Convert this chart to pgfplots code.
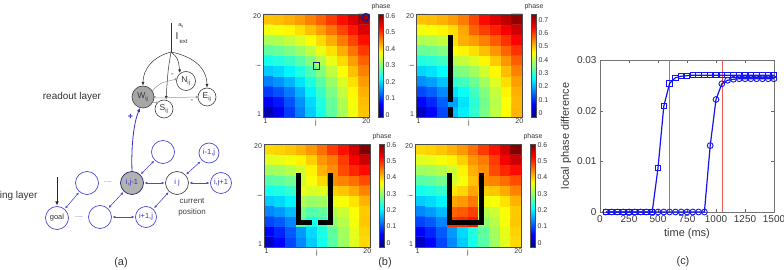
\documentclass[border=0pt]{standalone}
\usepackage{pgfplots}
\pgfplotsset{compat=1.18}
\usepackage{fontspec}
\setmainfont{Liberation Sans}
\usepackage{graphicx}
\usetikzlibrary{arrows.meta}
\definecolor{pblue}{RGB}{75,75,215}
\definecolor{tblue}{RGB}{50,50,205}
\definecolor{mblue}{RGB}{20,20,240}
\definecolor{navy}{RGB}{25,25,140}
\definecolor{txt}{RGB}{55,55,55}
\definecolor{vred}{RGB}{240,90,90}
\newcommand{\fs}[1]{\fontsize{#1}{#1}\selectfont}
\pgfplotsset{
 /pgf/number format/assume math mode=true,
 /pgf/number format/1000 sep={},
 hm/.style={
  scale only axis, width=106bp, height=103bp,
  xmin=0.5, xmax=20.5, ymin=0.5, ymax=20.5,
  xtick={1,10.5,20}, xticklabels={1,j,20},
  ytick={1,10.5,20}, yticklabels={1,\rotatebox{90}{i},20},
  tick label style={font=\fs{7}, text=txt},
  xticklabel style={yshift=1.5bp},
  yticklabel style={xshift=1.5bp},
  major tick length=0pt,
  axis line style={black!70, line width=0.4bp},
  axis on top,
  colormap/jet,
  colorbar,
  colorbar style={
    width=5bp, at={(parent axis.north east)}, anchor=north west, xshift=1bp,
    yticklabel style={font=\fs{7}, text=txt, xshift=-1.5bp},
    major tick length=0pt,
    axis line style={black!70, line width=0.4bp},
    title={phase}, title style={font=\fs{7}, text=txt, yshift=-5bp},
  },
 },
}
\newcommand{\hmdata}[1]{\addplot[matrix plot*, mesh/cols=10, point meta=explicit] table[row sep=\\, header=false, x expr={2*mod(\coordindex,10)+1.5}, y expr={2*floor(\coordindex/10)+1.5}, meta index=0] {#1};}
\begin{document}
\begin{tikzpicture}
\useasboundingbox (0,0) rectangle (784bp,270bp);

% ---------------- (b) heatmaps ----------------
\begin{axis}[hm, at={(263bp,153bp)}, anchor=south west,
  point meta min=-0.012, point meta max=0.61,
  colorbar style={ytick={0,0.1,0.2,0.3,0.4,0.5,0.6}}]
\hmdata{
0.016\\0.057\\0.101\\0.145\\0.190\\0.234\\0.279\\0.324\\0.368\\0.413\\
0.057\\0.079\\0.115\\0.155\\0.198\\0.241\\0.284\\0.328\\0.372\\0.416\\
0.101\\0.115\\0.142\\0.176\\0.215\\0.255\\0.296\\0.339\\0.381\\0.425\\
0.145\\0.155\\0.176\\0.205\\0.239\\0.275\\0.314\\0.354\\0.395\\0.437\\
0.190\\0.198\\0.215\\0.239\\0.268\\0.301\\0.337\\0.375\\0.414\\0.454\\
0.234\\0.241\\0.255\\0.275\\0.301\\0.331\\0.364\\0.399\\0.436\\0.474\\
0.279\\0.284\\0.296\\0.314\\0.337\\0.364\\0.394\\0.427\\0.462\\0.498\\
0.324\\0.328\\0.339\\0.354\\0.375\\0.399\\0.427\\0.457\\0.490\\0.524\\
0.368\\0.372\\0.381\\0.395\\0.414\\0.436\\0.462\\0.490\\0.520\\0.553\\
0.413\\0.416\\0.425\\0.437\\0.454\\0.474\\0.498\\0.524\\0.553\\0.583\\
}
\addplot[only marks, mark=square, mark size=3.2bp, draw=navy, line width=1.3bp] coordinates {(10.6,10.4)};
\addplot[only marks, mark=o, mark size=3.5bp, draw=navy, line width=1.3bp] coordinates {(19.9,19.9)};
\end{axis}

\begin{axis}[hm, at={(416bp,153bp)}, anchor=south west,
  point meta min=-0.03, point meta max=0.745,
  colorbar style={ytick={0,0.1,0.2,0.3,0.4,0.5,0.6,0.7}}]
\hmdata{
0.019\\0.069\\0.122\\0.213\\0.249\\0.299\\0.351\\0.404\\0.457\\0.511\\
0.069\\0.096\\0.139\\0.190\\0.239\\0.293\\0.347\\0.400\\0.454\\0.508\\
0.122\\0.139\\0.172\\0.239\\0.266\\0.310\\0.359\\0.410\\0.462\\0.515\\
0.176\\0.188\\0.214\\0.293\\0.310\\0.342\\0.384\\0.430\\0.479\\0.529\\
0.230\\0.239\\0.260\\0.347\\0.359\\0.384\\0.419\\0.460\\0.504\\0.551\\
0.284\\0.291\\0.308\\0.400\\0.410\\0.430\\0.460\\0.495\\0.535\\0.579\\
0.338\\0.344\\0.359\\0.454\\0.462\\0.479\\0.504\\0.535\\0.572\\0.611\\
0.392\\0.397\\0.410\\0.479\\0.515\\0.529\\0.551\\0.579\\0.611\\0.648\\
0.446\\0.451\\0.462\\0.479\\0.521\\0.573\\0.600\\0.625\\0.654\\0.687\\
0.500\\0.504\\0.514\\0.529\\0.554\\0.595\\0.642\\0.672\\0.699\\0.730\\
}
\addplot[fill=black, draw=none] coordinates {(6.5,3.5) (7.5,3.5) (7.5,16.5) (6.5,16.5)} -- cycle;
\addplot[fill=black, draw=none] coordinates {(6.5,0.5) (7.5,0.5) (7.5,2.4) (6.5,2.4)} -- cycle;
\end{axis}

\begin{axis}[hm, at={(264bp,23bp)}, anchor=south west,
  point meta min=-0.026, point meta max=0.606,
  colorbar style={ytick={0,0.1,0.2,0.3,0.4,0.5,0.6}}]
\hmdata{
0.015\\0.054\\0.096\\0.138\\0.180\\0.223\\0.265\\0.308\\0.350\\0.392\\
0.054\\0.075\\0.109\\0.148\\0.188\\0.229\\0.270\\0.312\\0.354\\0.396\\
0.096\\0.109\\0.135\\0.263\\0.224\\0.242\\0.299\\0.323\\0.363\\0.404\\
0.138\\0.148\\0.168\\0.284\\0.263\\0.271\\0.324\\0.337\\0.366\\0.402\\
0.180\\0.188\\0.204\\0.318\\0.305\\0.309\\0.357\\0.364\\0.386\\0.416\\
0.223\\0.229\\0.242\\0.356\\0.347\\0.350\\0.399\\0.405\\0.421\\0.446\\
0.265\\0.270\\0.282\\0.339\\0.365\\0.392\\0.441\\0.446\\0.459\\0.480\\
0.308\\0.312\\0.322\\0.339\\0.376\\0.417\\0.439\\0.481\\0.503\\0.521\\
0.350\\0.354\\0.363\\0.376\\0.399\\0.433\\0.451\\0.490\\0.531\\0.559\\
0.392\\0.396\\0.404\\0.416\\0.433\\0.459\\0.491\\0.517\\0.555\\0.604\\
}
\addplot[fill=black, draw=none] coordinates {(6.5,4.8) (7.5,4.8) (7.5,14.9) (6.5,14.9)} -- cycle;
\addplot[fill=black, draw=none] coordinates {(6.5,4.8) (9.5,4.8) (9.5,5.8) (6.5,5.8)} -- cycle;
\addplot[fill=black, draw=none] coordinates {(12.5,4.8) (13.5,4.8) (13.5,14.9) (12.5,14.9)} -- cycle;
\addplot[fill=black, draw=none] coordinates {(10.6,4.8) (13.5,4.8) (13.5,5.8) (10.6,5.8)} -- cycle;
\end{axis}

\begin{axis}[hm, at={(415bp,23bp)}, anchor=south west,
  point meta min=-0.026, point meta max=0.606,
  colorbar style={ytick={0,0.1,0.2,0.3,0.4,0.5,0.6}}]
\hmdata{
0.015\\0.054\\0.096\\0.138\\0.180\\0.223\\0.265\\0.308\\0.350\\0.392\\
0.054\\0.075\\0.109\\0.148\\0.188\\0.229\\0.270\\0.312\\0.354\\0.396\\
0.096\\0.109\\0.135\\0.498\\0.503\\0.517\\0.299\\0.323\\0.363\\0.404\\
0.138\\0.148\\0.168\\0.466\\0.472\\0.488\\0.324\\0.337\\0.366\\0.402\\
0.180\\0.188\\0.204\\0.424\\0.432\\0.453\\0.357\\0.364\\0.386\\0.416\\
0.223\\0.229\\0.242\\0.382\\0.394\\0.424\\0.399\\0.405\\0.421\\0.446\\
0.265\\0.270\\0.282\\0.341\\0.365\\0.405\\0.441\\0.446\\0.459\\0.480\\
0.308\\0.312\\0.322\\0.339\\0.376\\0.417\\0.439\\0.481\\0.503\\0.521\\
0.350\\0.354\\0.363\\0.376\\0.399\\0.433\\0.451\\0.490\\0.531\\0.559\\
0.392\\0.396\\0.404\\0.416\\0.433\\0.459\\0.491\\0.517\\0.555\\0.604\\
}
\addplot[fill=black, draw=none] coordinates {(6.5,4.8) (7.5,4.8) (7.5,14.9) (6.5,14.9)} -- cycle;
\addplot[fill=black, draw=none] coordinates {(12.5,4.8) (13.5,4.8) (13.5,14.9) (12.5,14.9)} -- cycle;
\addplot[fill=black, draw=none] coordinates {(6.5,4.8) (13.5,4.8) (13.5,5.8) (6.5,5.8)} -- cycle;
\end{axis}

% ---------------- (c) line plot ----------------
\begin{axis}[at={(600bp,58bp)}, anchor=south west, scale only axis,
  width=174bp, height=152bp,
  xmin=0, xmax=1500, ymin=0, ymax=0.03,
  xtick={0,250,500,750,1000,1250,1500},
  ytick={0,0.01,0.02,0.03}, yticklabels={0,0.01,0.02,0.03},
  scaled y ticks=false,
  tick label style={font=\fs{10}, text=txt},
  xlabel={time (ms)}, ylabel={local phase difference},
  label style={font=\fs{11}, text=txt},
  xlabel style={yshift=1bp}, ylabel style={yshift=-1bp},
  major tick length=3bp, tick style={black!60},
  axis line style={black!55, line width=0.5bp},
  clip=false]
\addplot[draw=vred, line width=0.6bp, solid, mark=none] coordinates {(600,0) (600,0.03)};
\addplot[draw=vred, line width=0.6bp, solid, mark=none] coordinates {(1050,0) (1050,0.03)};
\addplot[mblue, line width=1.2bp, mark=o, mark size=2.9bp, mark options={solid, line width=0.9bp}] coordinates {
(50,0) (100,0) (150,0) (200,0) (250,0) (300,0) (350,0) (400,0) (450,0) (500,0)
(550,0) (600,0) (650,0) (700,0) (750,0) (800,0) (850,0) (900,0) (950,0.0131) (1000,0.0222)
(1050,0.0253) (1100,0.0260) (1150,0.0262) (1200,0.0263) (1250,0.0263) (1300,0.0263) (1350,0.0263) (1400,0.0263) (1450,0.0263) (1500,0.0263)};
\addplot[mblue, line width=1.2bp, mark=square, mark size=2.7bp, mark options={solid, line width=0.9bp}] coordinates {
(50,0) (100,0) (150,0) (200,0) (250,0) (300,0) (350,0) (400,0) (450,0) (500,0.0087)
(550,0.0209) (600,0.0254) (650,0.0265) (700,0.0268) (750,0.0269) (800,0.0270) (850,0.0270) (900,0.0270) (950,0.0270) (1000,0.0270)
(1050,0.0270) (1100,0.0270) (1150,0.0270) (1200,0.0270) (1250,0.0270) (1300,0.0270) (1350,0.0270) (1400,0.0270) (1450,0.0270) (1500,0.0270)};
\end{axis}

% ---------------- (a) diagram ----------------
\begin{scope}[x=1bp, y=-1bp, yshift=270bp]
% readout layer
\draw[black!80, line width=0.6bp] (171,23) -- (171,52);
\node[font=\fs{10}, text=black!80] at (177,36) {I};
\node[font=\fs{5.5}, text=black!80] at (181,26) {a\textsubscript{ij}};
\node[font=\fs{6}, text=black!80] at (183.5,42) {ext};
\node[circle, draw=black!75, fill=black!35, minimum size=22bp, inner sep=0pt, line width=0.6bp] (W) at (143,97) {};
\node[circle, draw=black!75, fill=white, minimum size=19bp, inner sep=0pt, line width=0.6bp] (N) at (186,81) {};
\node[circle, draw=black!75, fill=white, minimum size=18bp, inner sep=0pt, line width=0.6bp] (E) at (207,97) {};
\node[circle, draw=black!75, fill=white, minimum size=18bp, inner sep=0pt, line width=0.6bp] (S) at (164,109) {};
\node[font=\fs{8.5}, text=black!80] at (143,97) {W\textsubscript{ij}};
\node[font=\fs{8.5}, text=black!80] at (186,81) {N\textsubscript{ij}};
\node[font=\fs{8.5}, text=black!80] at (207,97) {E\textsubscript{ij}};
\node[font=\fs{8.5}, text=black!80] at (164,109) {S\textsubscript{ij}};
\draw[black!80, line width=0.5bp, -{Latex[length=3.5bp,width=3bp]}] (171,52) .. controls (152,57) and (143,70) .. (143,85.5);
\draw[black!80, line width=0.5bp, -{Latex[length=3.5bp,width=3bp]}] (171,52) .. controls (168,70) .. (166,99.5);
\draw[black!80, line width=0.5bp, -{Latex[length=3.5bp,width=3bp]}] (171,52) .. controls (178,58) .. (180,73);
\draw[black!80, line width=0.5bp, -{Latex[length=3.5bp,width=3bp]}] (171,52) .. controls (196,57) and (207,70) .. (207,87.5);
\draw[black!40, line width=0.5bp, -{Circle[length=2.5bp]}] (152,91) .. controls (160,83) .. (177,79);
\draw[black!40, line width=0.5bp, -{Circle[length=2.5bp]}] (154,98) -- (198,97);
\draw[black!40, line width=0.5bp, -{Circle[length=2.5bp]}] (152,102) -- (158,103);
\node[font=\fs{8}, text=black!80] at (172.5,75) {-};
\node[font=\fs{8}, text=black!80] at (192,101) {-};
\node[font=\fs{8}, text=black!80] at (155,98.5) {-};
\node[font=\fs{10}, text=black!80] at (72,97) {readout layer};
% link from planning to readout
\draw[tblue, line width=0.8bp, -{Latex[length=4bp,width=3.5bp]}] (132,171.5) .. controls (131,145) and (134,122) .. (140,108);
\node[font=\bfseries\fs{9}, text=tblue] at (130.5,117) {+};
% planning layer
\node[font=\fs{10}, text=black!80, anchor=east] at (41,196) {ing layer};
\draw[black!85, line width=0.7bp, -{Latex[length=4bp,width=3.5bp]}] (57,177) -- (57,205.5);
\tikzset{pc/.style={circle, draw=pblue, fill=white, inner sep=0pt, line width=0.7bp, font=\fs{7.5}, text=tblue}}
\node[pc, minimum size=23bp, text=black!80] at (57,218) {goal};
\node[pc, minimum size=23bp] at (87,183) {};
\node[pc, minimum size=23bp] at (100,217) {};
\node[pc, minimum size=23bp, fill=black!30, draw=black!50!pblue] at (132,183) {i,j-1};
\node[pc, minimum size=23bp] at (163,152) {};
\node[pc, minimum size=23bp, draw=black!70] at (177,183) {i j};
\node[pc, minimum size=20bp] at (209,153) {i-1,j};
\node[pc, minimum size=21bp] at (221,183) {i,j+1};
\node[pc, minimum size=21bp] at (146,217) {i+1,j};
\node[font=\fs{7}, text=pblue] at (108,182) {....};
\node[font=\fs{7}, text=pblue] at (79,217) {....};
\tikzset{da/.style={pblue, line width=0.6bp, {Latex[length=2.8bp,width=2.6bp]}-{Latex[length=2.8bp,width=2.6bp]}}}
\draw[da] (65.1,208.5) -- (78.9,192.5);
\draw[da] (108.6,207.9) -- (123.4,192.1);
\draw[da] (140.8,174.2) -- (154.2,160.8);
\draw[da] (144.5,183) -- (164.5,183);
\draw[da] (186.1,174.5) -- (200.5,161.5);
\draw[da] (189.5,183) -- (209.5,183);
\draw[da] (168.6,192.2) -- (154.1,208.1);
\draw[da] (112.5,217) -- (134.5,217);
\node[font=\fs{8}, text=black!75] at (192,201) {current};
\node[font=\fs{8}, text=black!75] at (192,212) {position};
% panel labels
\node[font=\fs{11}, text=black!80] at (121,263) {(a)};
\node[font=\fs{11}, text=black!80] at (385,263) {(b)};
\node[font=\fs{11}, text=black!80] at (683,262) {(c)};
\end{scope}
\end{tikzpicture}
\end{document}
